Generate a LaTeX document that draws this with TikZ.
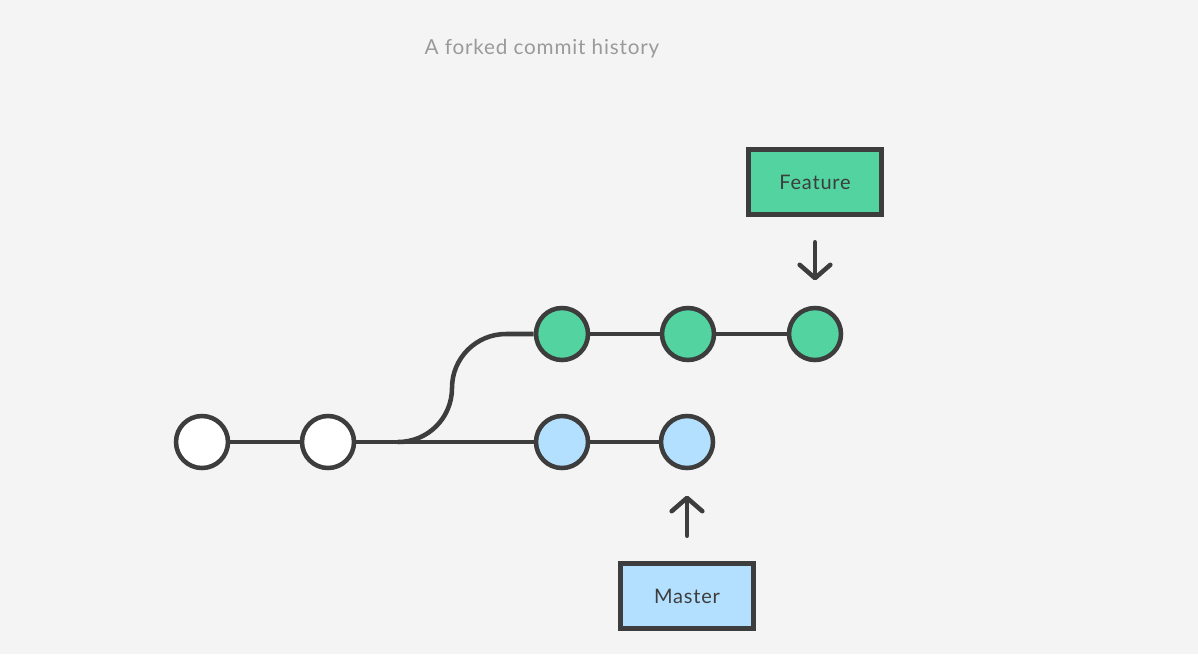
\documentclass[tikz,border=0pt]{standalone}
\usepackage{fontspec}
\setmainfont{Lato}
\newfontfamily\spacedfont[LetterSpace=4]{Lato}
\usetikzlibrary{arrows.meta}
\definecolor{bg}{HTML}{F4F4F4}
\definecolor{ink}{HTML}{3D3D3D}
\definecolor{featgreen}{HTML}{52D3A0}
\definecolor{mastblue}{HTML}{B3E0FF}
\definecolor{titlegray}{HTML}{9A9A9A}
\tikzset{
  commit/.style={circle, draw=ink, line width=3.4pt, minimum size=39pt, inner sep=0pt},
  branchbox/.style={rectangle, draw=ink, line width=3.4pt, minimum width=100pt, minimum height=49pt, inner sep=0pt, text=ink, font=\spacedfont\fontsize{15}{17}\selectfont},
  link/.style={draw=ink, line width=3.4pt},
  pointer/.style={draw=ink, line width=3.4pt, line cap=round, -{Straight Barb[length=10pt,width=23pt,line cap=round,line join=round]}},
}
\begin{document}
\begin{tikzpicture}[x=0.75pt,y=-0.75pt]
\fill[bg] (0,0) rectangle (1198,654);
\useasboundingbox (0,0) rectangle (1198,654);
\node[text=titlegray, font=\spacedfont\fontsize{15.5}{18}\selectfont] (title) at (542,49) {A forked commit history};
% commits
\node[commit, fill=white] (w1) at (202,442) {};
\node[commit, fill=white] (w2) at (328,442) {};
\node[commit, fill=mastblue] (b1) at (562,442) {};
\node[commit, fill=mastblue] (b2) at (687,442) {};
\node[commit, fill=featgreen] (g1) at (562,334) {};
\node[commit, fill=featgreen] (g2) at (688,334) {};
\node[commit, fill=featgreen] (g3) at (815,334) {};
% links
\coordinate (fork) at (398,442);
\coordinate (bend) at (452,388);
\coordinate (top) at (506,334);
\path[link] (w1) -- (w2);
\path[link] (w2) -- (b1);
\path[link] (b1) -- (b2);
\path[link] (g1) -- (g2);
\path[link] (g2) -- (g3);
\path[link] (fork) to[out=0,in=-90,looseness=1] (bend) to[out=90,in=180,looseness=1] (top) -- (g1.west);
% branch labels
\node[branchbox, fill=featgreen] (feature) at (815,182) {Feature};
\node[branchbox, fill=mastblue] (master) at (687,596) {Master};
\path[pointer, shorten <=19pt, shorten >=19pt] (feature) -- (g3);
\path[pointer, shorten <=19pt, shorten >=19pt] (master) -- (b2);
\end{tikzpicture}
\end{document}
